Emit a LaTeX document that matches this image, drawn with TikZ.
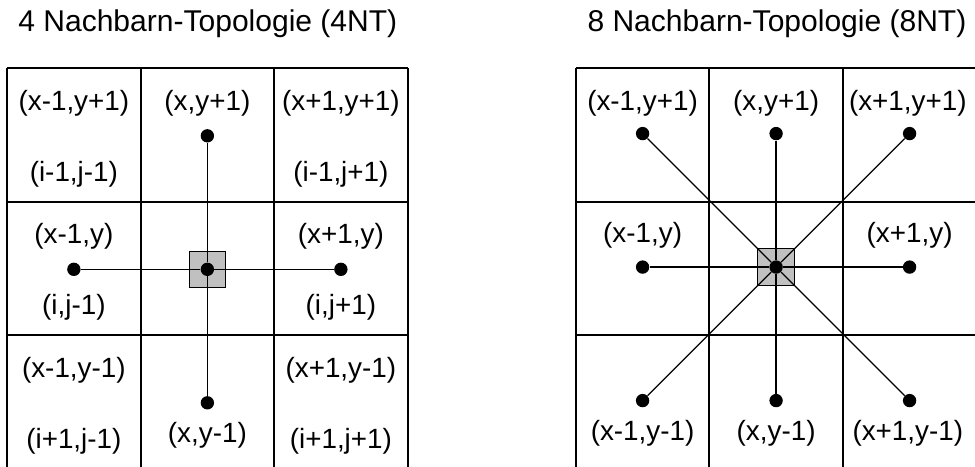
\documentclass[tikz,border=0pt]{standalone}
\usepackage{fontspec}
\setsansfont{Liberation Sans}
\usetikzlibrary{calc}
\definecolor{cMid}{HTML}{C0C0C0}

\begin{document}
\begin{tikzpicture}[
    x=1cm, y=1cm, font=\sffamily,
    cell/.style={draw=black, line width=1.2pt},
    conn/.style={draw=black, line width=0.8pt},
    dot/.style={circle, fill=black, inner sep=0pt, minimum size=0.3cm},
    ctr/.style={rectangle, draw=black, line width=0.6pt, fill=cMid,
                inner sep=0pt, minimum size=0.82cm},
    lbl/.style={font=\sffamily\fontsize{17.8}{20}\selectfont, inner sep=0pt},
    ttl/.style={font=\sffamily\fontsize{19.2}{22}\selectfont, inner sep=0pt,
                anchor=base},
]
\useasboundingbox (0,0) rectangle (21.91,10.472);

% ===================== 4NT (links) =====================
\foreach \gx in {0.16,3.16,6.16,9.16}
    \draw[cell] (\gx,-0.2) -- (\gx,8.94);
\foreach \gy in {2.94,5.94,8.94}
    \draw[cell] (0.16,\gy) -- (9.16,\gy);
\node[ttl] (t4) at (4.67,9.76) {4 Nachbarn-Topologie (4NT)};

\foreach \lx/\ly/\txt [count=\i] in {
    1.66/8.16/{(x-1,y+1)}, 1.66/6.56/{(i-1,j-1)},
    4.66/8.16/{(x,y+1)},
    7.66/8.16/{(x+1,y+1)}, 7.66/6.56/{(i-1,j+1)},
    1.66/5.16/{(x-1,y)},   1.66/3.56/{(i,j-1)},
    7.66/5.16/{(x+1,y)},   7.66/3.56/{(i,j+1)},
    1.66/2.16/{(x-1,y-1)}, 1.66/0.56/{(i+1,j-1)},
    4.66/0.70/{(x,y-1)},
    7.66/2.16/{(x+1,y-1)}, 7.66/0.56/{(i+1,j+1)}}{
    \node[lbl] (l4\i) at (\lx,\ly) {\txt};
}

\node[ctr] (q4) at (4.66,4.42) {};
\node[dot] (m4) at (q4) {};
\foreach \nm/\dx/\dy in {t/0/3, b/0/-3, l/-3/0, r/3/0}{
    \node[dot] (n4\nm) at ($(m4)+(\dx,\dy)$) {};
    \draw[conn] (m4) -- (n4\nm);
}

% ===================== 8NT (rechts) =====================
\foreach \gx in {12.94,15.94,18.94,21.94}
    \draw[cell] (\gx,-0.2) -- (\gx,8.94);
\foreach \gy in {2.94,5.94,8.94}
    \draw[cell] (12.94,\gy) -- (21.94,\gy);
\node[ttl] (t8) at (17.46,9.76) {8 Nachbarn-Topologie (8NT)};

\foreach \lx/\ly/\txt [count=\i] in {
    14.44/8.16/{(x-1,y+1)}, 17.44/8.16/{(x,y+1)}, 20.40/8.16/{(x+1,y+1)},
    14.44/5.18/{(x-1,y)},                         20.44/5.18/{(x+1,y)},
    14.44/0.74/{(x-1,y-1)}, 17.44/0.74/{(x,y-1)}, 20.40/0.74/{(x+1,y-1)}}{
    \node[lbl] (l8\i) at (\lx,\ly) {\txt};
}

\node[ctr] (q8) at (17.44,4.47) {};
\node[dot] (m8) at (q8) {};
\foreach \nm/\dx/\dy in {tl/-3/3, t/0/3, tr/3/3, l/-3/0, r/3/0,
                         bl/-3/-3, b/0/-3, br/3/-3}{
    \node[dot] (n8\nm) at ($(m8)+(\dx,\dy)$) {};
    \draw[conn] (m8) -- (n8\nm);
}

\end{tikzpicture}
\end{document}
